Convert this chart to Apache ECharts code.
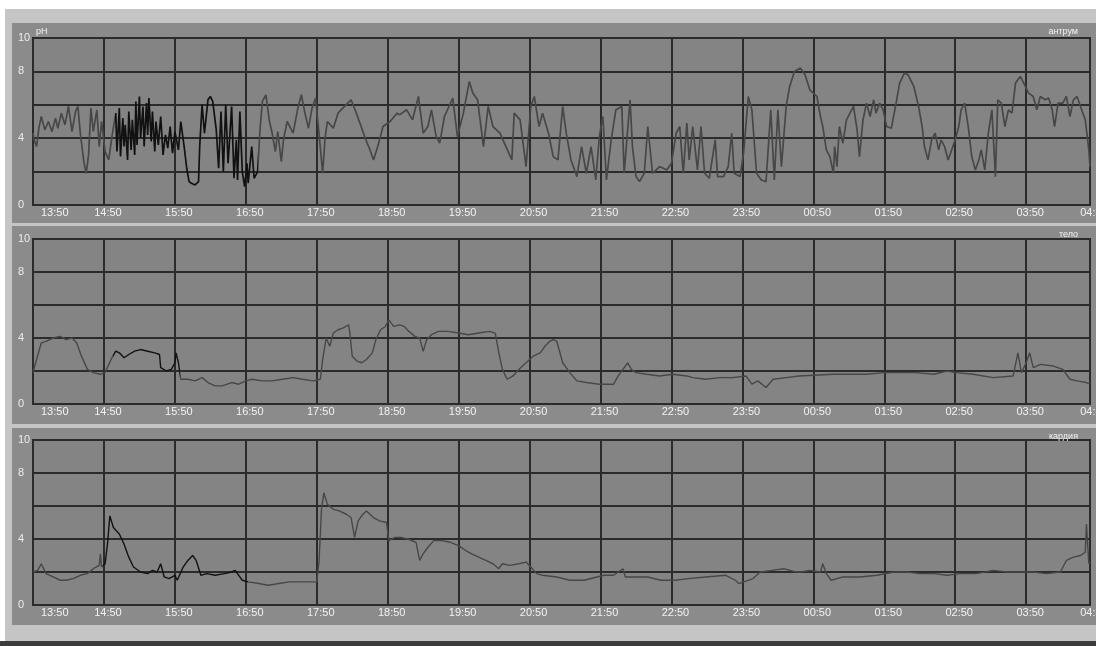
<!DOCTYPE html>
<html>
<head>
<meta charset="utf-8">
<script src="https://cdn.jsdelivr.net/npm/echarts@6/dist/echarts.min.js"></script>
<style>
    html, body { margin: 0; padding: 0; background: #fff; }
    #chart { width: 1096px; height: 646px; }
</style>
</head>
<body>
<div id="chart"></div>
<script>
// minutes since 13:50, pH
const antrum = [
    [0,4.3],[1,3.9],[3,3.5],[5,4.6],[7,5.3],[10,4.5],[13,5.0],[16,4.4],[19,5.2],[21,4.6],[24,5.5],[27,4.8],[30,5.9],[33,4.4],[36,5.6],[38,5.9],[40,4.3],[43,2.6],[45,1.9],[47,3.0],[49,5.8],[51,4.4],[54,5.7],[56,3.5],[58,5.0],[61,3.2],[64,2.7],[67,4.2],
    [70,5.5],[71,3.2],[73,5.8],[74,2.9],[76,5.2],[77,3.5],[78,4.8],[80,2.7],[81,5.6],[83,3.3],[84,5.1],[86,3.0],[87,6.2],[88,3.6],[90,6.5],[91,4.0],[93,5.9],[94,3.5],[96,6.1],[97,4.2],[98,6.4],[100,3.8],[101,5.6],[103,3.2],[104,5.0],[106,3.6],[108,5.3],[110,3.0],[112,4.2],[114,3.4],[116,4.7],[118,3.1],[120,4.4],[123,3.3],[125,5.0],[128,3.4],[130,2.2],[132,1.4],[134,1.3],[137,1.2],[140,1.4],[141,3.5],[143,6.0],[145,4.3],[148,6.3],[150,6.5],[152,6.2],[155,4.5],[157,2.2],[159,5.6],[161,2.0],[163,6.0],[165,2.5],[168,5.9],[170,1.6],[172,3.9],[173,1.5],[175,5.6],[177,2.0],[179,1.1],[181,2.5],[182,1.3],[185,3.5],[187,1.6],[190,2.0],
    [192,4.5],[194,6.2],[197,6.6],[200,5.0],[202,4.4],[205,3.2],[207,4.4],[210,2.6],[212,4.0],[215,5.0],[220,4.3],[224,5.8],[227,6.6],[230,5.5],[233,4.6],[236,5.8],[239,6.4],[242,4.2],[245,1.9],[247,4.0],[249,5.0],[254,4.6],[258,5.5],[262,5.8],[269,6.3],[273,5.6],[277,4.8],[281,4.0],[285,3.3],[288,2.7],[292,3.6],[296,4.7],[302,5.0],[308,5.5],
    [310,5.4],[316,5.7],[321,5.1],[326,6.5],[330,4.3],[334,4.7],[337,5.7],[341,4.1],[344,3.7],[348,5.3],[355,6.4],[359,4.1],[364,5.5],[369,7.4],[372,6.7],[376,6.3],[381,3.5],[385,5.9],[389,4.7],[395,4.3],[400,3.5],[405,2.7],[407,5.5],[412,5.1],[417,2.3],[421,5.9],[424,6.5],[428,4.7],[431,5.5],[436,4.3],[440,2.9],[444,2.7],[448,5.9],[451,4.3],[455,2.7],[460,1.7],[464,3.5],[468,1.9],[472,3.5],[476,1.5],[479,4.1],[482,5.3],[485,1.5],[489,3.9],[493,5.7],[498,5.9],[500,1.9],[505,6.3],[507,3.5],[510,1.7],[513,1.4],[517,1.9],[520,4.7],[524,1.9],[530,2.3],[536,2.1],[540,2.5],[544,4.3],[547,4.7],[550,1.9],[553,4.9],[555,2.7],[558,4.7],[562,2.1],[565,4.7],[568,1.9],[572,1.6],[577,3.9],[579,1.7],[584,1.7],[588,2.3],[591,4.3],[593,1.9],[598,1.7],[601,3.1],[605,6.5],[608,5.7],[612,1.9],[616,1.5],[620,1.4],[624,5.7],[627,1.5],[630,5.7],[633,2.3],[637,5.9],[640,7.1],[644,8.0],
    [649,8.2],[653,7.8],[657,6.9],[660,6.7],[663,6.5],[666,5.3],[668,4.7],[671,3.3],[674,2.9],[677,1.9],[678,3.5],[680,2.3],[682,4.7],[685,3.7],[688,5.1],[691,5.5],[694,5.9],[697,4.5],[699,2.9],[702,5.1],[705,6.1],[708,5.3],[711,6.3],[713,5.5],[716,6.1],[719,5.7],[722,4.7],[726,4.6],[730,6.1],[733,7.3],[737,7.9],[740,7.8],[745,7.1],[749,5.9],[752,4.7],[754,3.5],[757,2.7],[760,3.9],[763,4.3],[766,3.3],[768,3.9],[771,3.5],[774,2.7],
    [780,3.9],[783,4.7],[785,5.7],[788,6.1],[791,4.7],[794,2.9],[797,2.1],[800,2.7],[802,3.3],[805,2.1],[808,4.3],[811,5.7],[814,1.7],[816,6.3],[819,6.1],[822,4.7],[825,5.7],[828,5.5],[831,7.3],[835,7.7],[838,7.3],[842,6.7],[846,6.5],[849,5.7],[852,6.5],[856,6.3],[859,6.4],[862,5.7],[864,4.7],[867,6.1],[871,6.1],[874,6.5],[877,5.3],[880,6.3],[883,6.5],[886,5.9],[890,5.1],[893,3.3],[894,2.3]
];

const telo = [
    [0,1.9],[3,2.7],[7,3.7],[11,3.8],[17,4.0],[23,4.1],[28,3.9],[33,4.0],[37,3.7],[41,2.9],[46,2.1],[51,1.9],[57,1.8],[61,1.9],[66,2.7],[70,3.2],[73,3.1],[77,2.8],[81,3.0],[86,3.2],[91,3.3],[97,3.2],[103,3.1],[107,3.0],[108,2.2],[113,2.0],[117,2.1],[120,2.5],[121,3.1],[123,2.5],[125,1.5],[131,1.5],[137,1.4],[143,1.6],[148,1.3],[154,1.1],[160,1.1],[168,1.3],[174,1.2],[180,1.4],[185,1.5],[194,1.4],[202,1.4],[211,1.5],[220,1.6],[228,1.5],[237,1.4],[243,1.5],
    [245,2.7],[248,4.0],[251,3.5],[254,4.3],[258,4.5],[262,4.6],[267,4.8],[268,4.3],[270,2.9],[274,2.6],[278,2.5],[282,2.7],[287,3.1],[290,3.9],[294,4.5],[298,4.7],[301,5.1],[305,4.7],[310,4.8],[314,4.7],[318,4.4],[323,4.1],[327,4.0],[330,3.2],[333,3.9],[337,4.2],[343,4.4],[351,4.4],[360,4.3],[368,4.2],[377,4.3],[386,4.4],[391,4.3],[394,3.1],[397,2.1],[401,1.5],[406,1.7],[411,2.1],[417,2.5],[423,2.9],[429,3.1],[433,3.5],[437,3.8],[440,3.9],[443,3.8],
    [448,2.5],[454,1.9],[460,1.4],[468,1.3],[479,1.2],[491,1.2],[495,1.7],[499,2.1],[503,2.5],[506,2.1],[510,1.9],[519,1.8],[530,1.7],[541,1.8],[553,1.7],[558,1.6],[569,1.5],[581,1.6],[592,1.6],[603,1.7],[608,1.2],[613,1.4],[620,1.0],[626,1.5],[637,1.6],[648,1.7],
    [677,1.8],[705,1.8],[720,1.9],[747,1.9],[762,1.8],[773,2.0],[781,1.9],[795,1.8],[812,1.6],[829,1.7],[833,3.1],[836,1.9],[840,2.5],[843,3.1],[846,2.2],[852,2.4],[863,2.3],[871,2.1],[877,1.5],[883,1.4],[891,1.3],[894,1.2]
];

const kardia = [
    [0,2.0],[4,2.1],[7,2.5],[11,1.9],[17,1.7],[23,1.5],[28,1.5],[34,1.6],[40,1.8],[46,1.9],[51,2.2],[56,2.4],[57,3.1],[58,2.3],[61,2.5],[63,3.7],[65,5.4],[68,4.7],[73,4.3],[77,3.7],[81,2.9],[85,2.3],[91,2.0],[97,1.9],[101,2.1],[105,2.0],[108,2.5],[111,1.7],[115,1.6],[120,1.8],[122,1.5],[127,2.3],[131,2.7],[135,3.0],[138,2.7],[142,1.8],[147,1.9],[154,1.8],[162,1.9],[168,2.0],[171,2.1],[174,1.8],[177,1.5],[182,1.4],[191,1.3],[199,1.2],[208,1.3],[217,1.4],[225,1.4],[234,1.4],[240,1.4],
    [242,2.7],[244,5.8],[246,6.8],[249,6.1],[254,5.8],[259,5.7],[265,5.5],[269,5.3],[272,4.1],[275,5.1],[279,5.5],[282,5.7],[288,5.3],[293,5.1],[299,5.0],[301,3.9],[306,4.1],[311,4.1],[317,4.0],[324,3.8],[327,2.7],[330,3.1],[334,3.5],[339,3.9],[346,3.9],[353,3.8],[360,3.6],[366,3.3],[371,3.1],[377,2.9],[383,2.7],[389,2.5],[394,2.2],[397,2.5],[403,2.4],[411,2.5],[417,2.6],[421,2.3],[426,1.9],[431,1.8],[443,1.7],[454,1.5],[466,1.5],[477,1.7],[483,1.8],[491,1.8],[499,2.2],[501,1.7],[509,1.7],[520,1.7],[531,1.5],[543,1.5],[554,1.6],[569,1.7],[586,1.8],[594,1.5],[597,1.3],[609,1.6],
    [615,2.0],[625,2.1],[635,2.2],[645,2.0],[649,2.0],[657,2.1],[666,2.0],[668,2.5],[671,1.9],[675,1.5],[685,1.7],[699,1.7],[714,1.8],[728,2.0],[739,2.0],[750,1.9],[762,1.9],[773,1.8],[784,1.9],[798,1.9],[812,2.1],[824,2.0],[835,2.0],[846,2.0],[857,1.9],[869,2.0],[874,2.7],[880,2.9],[886,3.0],[890,3.2],[891,4.9],[893,2.5],[894,2.6]
];

const timeLabels = ['13:50','14:50','15:50','16:50','17:50','18:50','19:50','20:50','21:50','22:50','23:50','00:50','01:50','02:50','03:50'];
const endLabel = '04:44';
const yTickLabels = ['0', '', '4', '', '8', '10'];
const panelNames = ['антрум', 'тело', 'кардия'];

const chart = echarts.init(document.getElementById('chart'));

const grids = [
    { top: 38, height: 167 },
    { top: 239, height: 165 },
    { top: 440, height: 165 },
];
const frames = [[23, 200], [226, 198], [428, 197]];

const gridLine = { lineStyle: { color: '#2b2b2b', width: 2 } };

const xAxes = grids.map((g, i) => ({
    type: 'value',
    gridIndex: i,
    min: 0,
    max: 894,
    interval: 60,
    axisLine: { show: false },
    axisTick: { show: false },
    splitLine: { show: true, ...gridLine },
    axisLabel: {
        color: '#f2f2f2',
        fontFamily: 'Liberation Sans',
        fontSize: 11,
        margin: 2,
        padding: [0, 0, 0, 8],
        alignMinLabel: 'left',
        showMaxLabel: true,
        hideOverlap: false,
        formatter: (v) => timeLabels[v / 60] ?? endLabel,
    },
}));

const yAxes = grids.map((g, i) => ({
    type: 'value',
    gridIndex: i,
    min: 0,
    max: 10,
    interval: 2,
    axisLine: { show: false },
    axisTick: { show: false },
    splitLine: { show: true, ...gridLine },
    axisLabel: {
        color: '#ececec',
        fontFamily: 'Liberation Sans',
        fontSize: 11,
        align: 'left',
        margin: 15,
        padding: [6, 0, 0, 0],
        formatter: (v) => yTickLabels[v / 2],
    },
}));

const lineSeries = (data, i) => ({
    type: 'line',
    xAxisIndex: i,
    yAxisIndex: i,
    data,
    showSymbol: false,
    lineStyle: { width: i === 0 ? 1.7 : 1.4 },
    z: 3,
});

// darker stretch of each trace
const darkPieces = [[69, 190], [68, 124], [59, 182]];

const option = {
    backgroundColor: '#ffffff',
    animation: false,
    graphic: [
        { type: 'rect', z: -10, shape: { x: 5, y: 9, width: 1091, height: 632 }, style: { fill: '#c5c5c5' } },
        { type: 'rect', z: -10, shape: { x: 0, y: 641, width: 1096, height: 5 }, style: { fill: '#3c3c3c' } },
        ...frames.map(([y, h]) => ({
            type: 'rect',
            z: -9,
            shape: { x: 12, y, width: 1084, height: h },
            style: { fill: '#8b8b8b' },
        })),
        {
            type: 'text', left: 36, top: 27, z: 5,
            style: { text: 'pH', fill: '#f2f2f2', font: '9px "Liberation Sans"' },
        },
        ...panelNames.map((name, i) => ({
            type: 'text', right: 18, top: frames[i][0] + 4, z: 5,
            style: { text: name, fill: '#f2f2f2', font: '9px "Liberation Sans"' },
        })),
    ],
    grid: grids.map((g) => ({
        left: 33,
        width: 1057,
        top: g.top,
        height: g.height,
        outerBoundsMode: 'none',
        containLabel: false,
        show: true,
        backgroundColor: '#848484',
        borderColor: '#2b2b2b',
        borderWidth: 2,
    })),
    xAxis: xAxes,
    yAxis: yAxes,
    visualMap: darkPieces.map(([a, b], i) => ({
        show: false,
        seriesIndex: i,
        dimension: 0,
        pieces: [
            { lt: a, color: '#474747' },
            { gte: a, lte: b, color: '#111111' },
            { gt: b, color: '#474747' },
        ],
    })),
    series: [antrum, telo, kardia].map(lineSeries),
};

chart.setOption(option);
</script>
</body>
</html>
